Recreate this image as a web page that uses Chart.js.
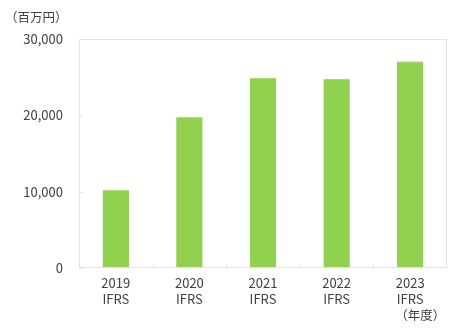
<!DOCTYPE html>
<html><head><meta charset="utf-8">
<script src="https://cdn.jsdelivr.net/npm/chart.js@4"></script>
<style>html,body{margin:0;padding:0;background:#fff}#wrap{width:455px;height:330px}</style>
</head><body><div id="wrap"><canvas id="c"></canvas></div>
<script>
const years = ["2019", "2020", "2021", "2022", "2023"];
const standards = ["IFRS", "IFRS", "IFRS", "IFRS", "IFRS"];
const values = [10250, 19800, 24900, 24750, 27100];
const yTicks = [0, 10000, 20000, 30000];
const unitLabel = "（百万円）";
const yearLabel = "（年度）";

const FONT = "'Noto Sans CJK JP', 'Noto Sans', sans-serif";
const labels = years.map((y, i) => [y, standards[i]]);

const frame = {
  id: 'frame',
  afterDraw(chart) {
    const {ctx, chartArea: a, scales: {x, y}} = chart;
    ctx.save();
    ctx.strokeStyle = '#e3e3e3';
    ctx.lineWidth = 1;
    ctx.strokeRect(a.left + 0.5, a.top + 0.5, a.right - a.left - 1, a.bottom - a.top - 1);
    ctx.beginPath();
    yTicks.forEach(v => {
      const py = Math.round(y.getPixelForValue(v)) + 0.5;
      ctx.moveTo(a.left, py); ctx.lineTo(a.left + 4, py);
    });
    for (let i = 1; i < years.length; i++) {
      const px = Math.round((x.getPixelForValue(i - 1) + x.getPixelForValue(i)) / 2) + 0.5;
      ctx.moveTo(px, a.bottom); ctx.lineTo(px, a.bottom - 4);
    }
    ctx.stroke();
    ctx.fillStyle = '#404040';
    ctx.font = "12.5px " + FONT;
    ctx.textBaseline = 'middle';
    ctx.textAlign = 'left';
    ctx.fillText(unitLabel, 5, 17);
    ctx.textAlign = 'center';
    const lx = x.getPixelForValue(years.length - 1);
    ctx.fillText(yearLabel, lx + 10, 315);
    ctx.restore();
  }
};

new Chart(document.getElementById('c'), {
  type: 'bar',
  data: {
    labels: labels,
    datasets: [{
      data: values,
      backgroundColor: '#92d050',
      borderColor: '#a6dc6e',
      borderWidth: {top: 1, left: 0, right: 0, bottom: 0},
      categoryPercentage: 1,
      barPercentage: 0.36
    }]
  },
  options: {
    responsive: true,
    maintainAspectRatio: false,
    animation: false,
    devicePixelRatio: 1,
    layout: {padding: {left: 0, right: 8, top: 39, bottom: 0}},
    plugins: {legend: {display: false}, tooltip: {enabled: false}},
    scales: {
      x: {
        grid: {display: false, drawTicks: false},
        border: {display: false},
        ticks: {color: '#404040', font: {family: FONT, size: 13, lineHeight: 1.25}, padding: 7, maxRotation: 0},
        afterFit(s) { s.height = 62; }
      },
      y: {
        min: 0, max: 30000,
        afterBuildTicks(s) { s.ticks = yTicks.map(v => ({value: v})); },
        grid: {display: false, drawTicks: false},
        border: {display: false},
        ticks: {
          color: '#404040', font: {family: FONT, size: 13}, padding: 16,
          callback: v => v.toLocaleString('en-US')
        },
        afterFit(s) { s.width = 79; }
      }
    }
  },
  plugins: [frame]
});
</script></body></html>
